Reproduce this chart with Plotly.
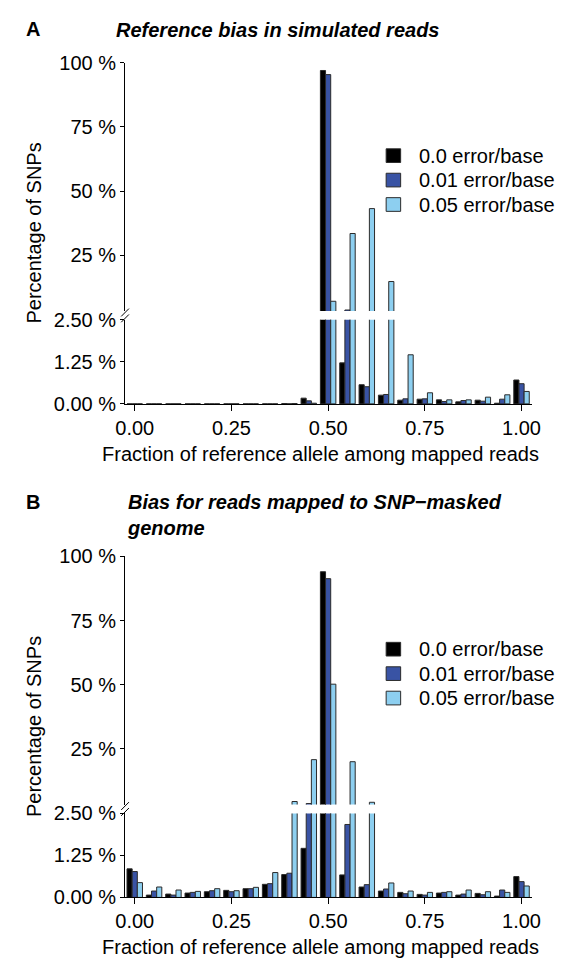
import plotly.graph_objects as go

# ---------------- data ----------------
bins = [0.00, 0.05, 0.10, 0.15, 0.20, 0.25, 0.30, 0.35, 0.40, 0.45, 0.50,
        0.55, 0.60, 0.65, 0.70, 0.75, 0.80, 0.85, 0.90, 0.95, 1.00]

series_names = ["0.0 error/base", "0.01 error/base", "0.05 error/base"]

# Panel A: reference bias in simulated reads (% of SNPs)
a_err0 = [0, 0, 0, 0, 0, 0, 0, 0, 0.01, 0.17, 97.0,
          1.22, 0.57, 0.26, 0.11, 0.14, 0.12, 0.06, 0.11, 0.02, 0.71]
a_err001 = [0, 0, 0, 0, 0, 0, 0, 0, 0.0, 0.09, 95.4,
            3.7, 0.51, 0.28, 0.15, 0.15, 0.07, 0.10, 0.08, 0.14, 0.60]
a_err005 = [0, 0, 0, 0, 0, 0, 0, 0, 0.01, 0.02, 7.1,
            33.5, 43.2, 14.8, 1.46, 0.33, 0.12, 0.12, 0.20, 0.27, 0.37]

# Panel B: reads mapped to SNP-masked genome (% of SNPs)
b_err0 = [0.85, 0.07, 0.10, 0.13, 0.17, 0.21, 0.26, 0.39, 0.68, 1.46, 94.0,
          0.67, 0.31, 0.19, 0.15, 0.09, 0.13, 0.07, 0.12, 0.04, 0.62]
b_err001 = [0.77, 0.19, 0.07, 0.15, 0.20, 0.17, 0.26, 0.41, 0.72, 3.7, 91.3,
            2.17, 0.38, 0.25, 0.11, 0.07, 0.15, 0.10, 0.08, 0.22, 0.47]
b_err005 = [0.44, 0.31, 0.22, 0.18, 0.26, 0.20, 0.30, 0.74, 4.5, 20.8, 50.2,
            20.0, 4.2, 0.43, 0.19, 0.15, 0.17, 0.22, 0.17, 0.15, 0.34]

x_ticks = [0.0, 0.25, 0.5, 0.75, 1.0]
low_ticks = [0.0, 1.25, 2.5]
low_ticktext = ["0.00 %", "1.25 %", "2.50 %"]
up_ticks = [25, 50, 75, 100]
up_ticktext = ["25 %", "50 %", "75 %", "100 %"]

colors = ["#000000", "#3953a4", "#8dcff0"]
outline = "#2b2b2b"

# ---------------- geometry (pixels) ----------------
W, H = 575, 970
FONT = "Liberation Sans, Arial, Helvetica, sans-serif"


def fx(p):
    return p / W


def fy(p):
    return 1 - p / H


AX_L, AX_R = 119, 540
panels = [
    dict(top=53, up_bot=307, low_top=316, low_bot=402,
         data=[a_err0, a_err001, a_err005],
         title="Reference bias in simulated reads", letter="A",
         ttl_x=108, ttl_top=6, letter_y=18, leg_y=148),
    dict(top=558, up_bot=812, low_top=821, low_bot=907,
         data=[b_err0, b_err001, b_err005],
         title="Bias for reads mapped to SNP\u2212masked<br>genome", letter="B",
         ttl_x=119, ttl_top=489, letter_y=502, leg_y=653),
]

fig = go.Figure()
layout = dict(
    width=W, height=H,
    margin=dict(l=0, r=0, t=0, b=0),
    paper_bgcolor="white", plot_bgcolor="white",
    barmode="group", bargap=0.2, bargroupgap=0.0,
    font=dict(family=FONT, size=20, color="black"),
    showlegend=False,
)

annotations = []
shapes = []

for i, p in enumerate(panels):
    xn = "x" if i == 0 else "x2"
    ylow = "y" if i == 0 else "y3"
    yup = "y2" if i == 0 else "y4"
    xkey = "xaxis" if i == 0 else "xaxis2"
    ylowkey = "yaxis" if i == 0 else "yaxis3"
    yupkey = "yaxis2" if i == 0 else "yaxis4"

    for s in range(3):
        vals = p["data"][s]
        # lower (zoomed) segment
        fig.add_trace(go.Bar(
            x=bins, y=vals, name=series_names[s], xaxis=xn, yaxis=ylow,
            marker=dict(color=colors[s], line=dict(color=outline, width=1)),
            offsetgroup=str(s),
        ))
        # upper segment
        fig.add_trace(go.Bar(
            x=bins, y=vals, name=series_names[s], xaxis=xn, yaxis=yup,
            marker=dict(color=colors[s], line=dict(color=outline, width=1)),
            offsetgroup=str(s),
        ))

    layout[xkey] = dict(
        domain=[fx(AX_L), fx(AX_R)], range=[-0.025, 1.0275], anchor=ylow,
        tickvals=x_ticks, tickformat=".2f", ticks="outside", ticklen=6,
        tickwidth=1, tickcolor="black", showline=True, linecolor="black",
        linewidth=1, showgrid=False, zeroline=False,
        tickfont=dict(size=20),
    )
    layout[ylowkey] = dict(
        domain=[fy(p["low_bot"]), fy(p["low_top"])], range=[0, 2.5], anchor=xn,
        tickvals=low_ticks, ticktext=low_ticktext, ticks="outside", ticklen=4,
        tickwidth=1, tickcolor="black", showline=True, linecolor="black",
        linewidth=1, showgrid=False, zeroline=False, tickfont=dict(size=20),
    )
    layout[yupkey] = dict(
        domain=[fy(p["up_bot"]), fy(p["top"])], range=[3.3, 100], anchor=xn,
        tickvals=up_ticks, ticktext=up_ticktext, ticks="outside", ticklen=4,
        tickwidth=1, tickcolor="black", showline=True, linecolor="black",
        linewidth=1, showgrid=False, zeroline=False, tickfont=dict(size=20),
    )

    # legend (drawn as key boxes + labels)
    for s in range(3):
        ry = p["leg_y"] + 25 * s
        shapes.append(dict(
            type="rect", xref="paper", yref="paper",
            x0=fx(389), x1=fx(404), y0=fy(ry + 7), y1=fy(ry - 7),
            fillcolor=colors[s], line=dict(color=outline, width=1),
        ))
        annotations.append(dict(
            text=series_names[s], x=fx(421), y=fy(ry), xref="paper",
            yref="paper", xanchor="left", yanchor="middle",
            showarrow=False, font=dict(size=20),
        ))

    # titles
    annotations.append(dict(
        text="<b>" + p["letter"] + "</b>", x=fx(14), y=fy(p["letter_y"]),
        xref="paper", yref="paper", xanchor="left", yanchor="middle",
        showarrow=False, font=dict(size=20),
    ))
    annotations.append(dict(
        text="<b><i>" + p["title"] + "</i></b>", x=fx(p["ttl_x"]),
        y=fy(p["ttl_top"]), xref="paper", yref="paper", xanchor="left",
        yanchor="top", align="left", showarrow=False, font=dict(size=20),
    ))
    # y-axis title
    annotations.append(dict(
        text="Percentage of SNPs", x=fx(25), y=fy((p["top"] + p["low_bot"]) / 2),
        xref="paper", yref="paper", xanchor="center", yanchor="middle",
        textangle=-90, showarrow=False, font=dict(size=20),
    ))
    # x-axis title
    annotations.append(dict(
        text="Fraction of reference allele among mapped reads",
        x=fx((AX_L + AX_R) / 2 - 8), y=fy(p["low_bot"] + 51),
        xref="paper", yref="paper", xanchor="center", yanchor="middle",
        showarrow=False, font=dict(size=20),
    ))
    # axis break marks
    ymid = (p["up_bot"] + p["low_top"]) / 2
    for off in (-3, 3):
        shapes.append(dict(
            type="line", xref="paper", yref="paper",
            x0=fx(AX_L - 4), y0=fy(ymid + off + 4),
            x1=fx(AX_L + 4), y1=fy(ymid + off - 4),
            line=dict(color="black", width=1),
        ))

layout["annotations"] = annotations
layout["shapes"] = shapes
fig.update_layout(**layout)

fig.write_html("out.html")
